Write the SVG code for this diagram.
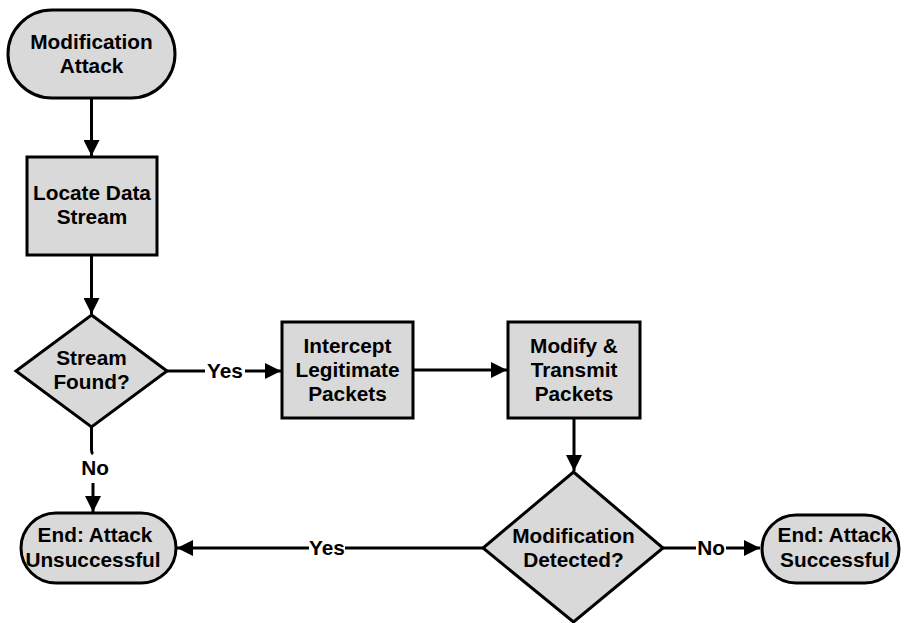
<svg xmlns="http://www.w3.org/2000/svg" width="904" height="623" viewBox="0 0 904 623">
<style>
.n{fill:#d9d9d9;stroke:#000;stroke-width:3}
.t{font-family:"Liberation Sans",Arial,sans-serif;font-weight:bold;font-size:20.8px;text-anchor:middle;fill:#000}
.c{fill:none;stroke:#000;stroke-width:3}
</style>
<defs>
<marker id="a" markerWidth="16" markerHeight="16" viewBox="0 0 16 16" refX="16" refY="8" orient="auto" markerUnits="userSpaceOnUse">
<path d="M0,0 L16,8 L0,16 Z" fill="#000"/>
</marker>
</defs>
<rect width="904" height="623" fill="#fff"/>
<g id="connectors">
<path class="c" d="M91.5,98 V156" marker-end="url(#a)"/>
<path class="c" d="M91.5,255 V314" marker-end="url(#a)"/>
<path class="c" d="M167,371 H205"/>
<path class="c" d="M245,371 H281" marker-end="url(#a)"/>
<path class="c" d="M413,370 H507" marker-end="url(#a)"/>
<path class="c" d="M574,418 V471" marker-end="url(#a)"/>
<path class="c" d="M663,548 H696"/>
<path class="c" d="M726,548 H760" marker-end="url(#a)"/>
<path class="c" d="M483,548 H345"/>
<path class="c" d="M309,548 H177" marker-end="url(#a)"/>
<path class="c" d="M91.5,427 V450 Q91.5,453 93,454"/>
<path class="c" d="M93,483 V512" marker-end="url(#a)"/>
<text class="t" x="225" y="378">Yes</text>
<text class="t" x="711" y="555">No</text>
<text class="t" x="327" y="555">Yes</text>
<text class="t" x="95" y="475">No</text>
</g>
<g id="start">
<rect class="n" x="8" y="10" width="167" height="88" rx="44" ry="44"/>
<text class="t" x="91.5" y="49">Modification</text>
<text class="t" x="91.5" y="73">Attack</text>
</g>
<g id="locate">
<rect class="n" x="27" y="157" width="130" height="98"/>
<text class="t" x="92" y="200">Locate Data</text>
<text class="t" x="92" y="224">Stream</text>
</g>
<g id="found">
<polygon class="n" points="91.5,315 167,371 91.5,427 16,371"/>
<text class="t" x="91.5" y="365">Stream</text>
<text class="t" x="91.5" y="389">Found?</text>
</g>
<g id="intercept">
<rect class="n" x="282" y="322" width="131" height="96"/>
<text class="t" x="347.5" y="353">Intercept</text>
<text class="t" x="347.5" y="377">Legitimate</text>
<text class="t" x="347.5" y="401">Packets</text>
</g>
<g id="modify">
<rect class="n" x="508" y="322" width="132" height="96"/>
<text class="t" x="574" y="353">Modify &amp;</text>
<text class="t" x="574" y="377">Transmit</text>
<text class="t" x="574" y="401">Packets</text>
</g>
<g id="detected">
<polygon class="n" points="573.5,472 663,548 573.5,622 483,548"/>
<text class="t" x="573.5" y="543">Modification</text>
<text class="t" x="573.5" y="567">Detected?</text>
</g>
<g id="unsuccessful">
<rect class="n" x="21" y="513" width="155" height="70" rx="35" ry="35"/>
<text class="t" x="95" y="542">End: Attack</text>
<text class="t" x="93" y="567">Unsuccessful</text>
</g>
<g id="successful">
<rect class="n" x="762" y="515" width="137" height="68" rx="34" ry="34"/>
<text class="t" x="835" y="542">End: Attack</text>
<text class="t" x="835" y="567">Successful</text>
</g>
</svg>
